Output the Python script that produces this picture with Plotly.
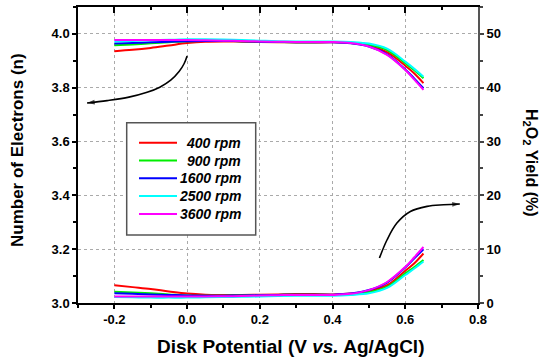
import plotly.graph_objects as go

# ---------------- data ----------------
potential = [-0.2, -0.15, -0.1, -0.05, 0.0, 0.05, 0.1, 0.15, 0.2, 0.25, 0.3,
             0.35, 0.4, 0.45, 0.5, 0.55, 0.6, 0.625, 0.65]

series_names = ["400 rpm", "900 rpm", "1600 rpm", "2500 rpm", "3600 rpm"]
series_colors = ["#ff0000", "#00ee00", "#0000ff", "#00ffff", "#ff00ff"]

n_400 = [3.936, 3.941, 3.948, 3.957, 3.966, 3.971, 3.972, 3.971, 3.970, 3.969, 3.968,
         3.968, 3.969, 3.966, 3.956, 3.932, 3.882, 3.853, 3.817]
n_900 = [3.958, 3.961, 3.965, 3.969, 3.973, 3.974, 3.974, 3.973, 3.972, 3.970, 3.969,
         3.969, 3.970, 3.968, 3.960, 3.940, 3.891, 3.865, 3.835]
n_1600 = [3.964, 3.966, 3.969, 3.971, 3.973, 3.974, 3.974, 3.973, 3.971, 3.970, 3.969,
          3.969, 3.969, 3.965, 3.953, 3.924, 3.868, 3.834, 3.798]
n_2500 = [3.972, 3.974, 3.976, 3.978, 3.980, 3.980, 3.979, 3.977, 3.975, 3.973, 3.972,
          3.972, 3.972, 3.970, 3.964, 3.945, 3.897, 3.870, 3.841]
n_3600 = [3.977, 3.977, 3.977, 3.977, 3.977, 3.976, 3.975, 3.974, 3.972, 3.971, 3.970,
          3.970, 3.970, 3.966, 3.953, 3.922, 3.866, 3.830, 3.792]

h2o2_400 = [3.3, 2.95, 2.6, 2.15, 1.75, 1.55, 1.5, 1.5, 1.55, 1.6, 1.65,
            1.65, 1.6, 1.75, 2.2, 3.3, 6.0, 7.4, 9.2]
h2o2_900 = [2.1, 1.95, 1.8, 1.6, 1.4, 1.35, 1.35, 1.4, 1.45, 1.5, 1.55,
            1.55, 1.5, 1.6, 2.0, 3.0, 5.5, 6.7, 8.0]
h2o2_1600 = [1.8, 1.7, 1.6, 1.5, 1.4, 1.35, 1.35, 1.4, 1.45, 1.5, 1.55,
             1.55, 1.55, 1.75, 2.4, 3.8, 6.6, 8.3, 10.0]
h2o2_2500 = [1.1, 1.05, 1.0, 1.0, 1.0, 1.05, 1.1, 1.15, 1.2, 1.3, 1.35,
             1.35, 1.35, 1.5, 1.8, 2.8, 5.2, 6.4, 7.7]
h2o2_3600 = [1.2, 1.2, 1.2, 1.2, 1.2, 1.2, 1.25, 1.3, 1.4, 1.45, 1.5,
             1.5, 1.5, 1.7, 2.4, 3.9, 6.7, 8.5, 10.4]

n_series = [n_400, n_900, n_1600, n_2500, n_3600]
h2o2_series = [h2o2_400, h2o2_900, h2o2_1600, h2o2_2500, h2o2_3600]

# guide arrows (data coordinates, left axis)
arrow_n_x = [0.0, -0.008, -0.022, -0.045, -0.075, -0.11, -0.16, -0.22, -0.275]
arrow_n_y = [3.918, 3.890, 3.860, 3.828, 3.802, 3.783, 3.765, 3.752, 3.743]
arrow_h_x = [0.529, 0.550, 0.577, 0.614, 0.660, 0.705, 0.750]
arrow_h_y = [3.167, 3.235, 3.297, 3.340, 3.359, 3.365, 3.368]

x_tickvals = [-0.2, 0.0, 0.2, 0.4, 0.6, 0.8]
x_ticktext = ["-0.2", "0.0", "0.2", "0.4", "0.6", "0.8"]
yl_tickvals = [3.0, 3.2, 3.4, 3.6, 3.8, 4.0]
yl_ticktext = ["3.0", "3.2", "3.4", "3.6", "3.8", "4.0"]
yr_tickvals = [0, 10, 20, 30, 40, 50]
yr_ticktext = ["0", "10", "20", "30", "40", "50"]

# ---------------- figure ----------------
FONT = "Liberation Sans, Arial, sans-serif"
W, H = 540, 361
PL, PR, PT, PB = 78, 478, 7, 303  # plot area in pixels


def px_x(p):
    return (p - PL) / (PR - PL)


def px_y(p):
    return (PB - p) / (PB - PT)


fig = go.Figure()

for name, col, ys in zip(series_names, series_colors, n_series):
    fig.add_trace(go.Scatter(x=potential, y=ys, mode="lines", name=name,
                             line=dict(color=col, width=2, shape="spline"),
                             showlegend=False, xaxis="x", yaxis="y"))
for name, col, ys in zip(series_names, series_colors, h2o2_series):
    fig.add_trace(go.Scatter(x=potential, y=ys, mode="lines", name=name,
                             line=dict(color=col, width=2, shape="spline"),
                             showlegend=False, xaxis="x", yaxis="y2"))

# arrows: curved shaft + arrow-shaped marker at the end
for ax_, ay_ in [(arrow_n_x, arrow_n_y), (arrow_h_x, arrow_h_y)]:
    fig.add_trace(go.Scatter(x=ax_, y=ay_, mode="lines",
                             line=dict(color="black", width=1.6, shape="spline"),
                             showlegend=False, hoverinfo="skip"))
    fig.add_trace(go.Scatter(x=ax_[-2:], y=ay_[-2:], mode="markers",
                             marker=dict(symbol="arrow", angleref="previous",
                                         size=[0, 8], color="black",
                                         line=dict(width=0)),
                             showlegend=False, hoverinfo="skip"))

# invisible trace to carry the top mirror axis
fig.add_trace(go.Scatter(x=[potential[0]], y=[n_400[0]], mode="markers",
                         marker=dict(opacity=0), xaxis="x2", yaxis="y",
                         showlegend=False, hoverinfo="skip"))

tickfont = dict(family=FONT, size=13, color="black", weight="bold")

fig.update_layout(
    width=W, height=H,
    margin=dict(l=PL, r=W - PR, t=PT, b=H - PB),
    paper_bgcolor="white", plot_bgcolor="white",
    font=dict(family=FONT, color="black"),
    xaxis=dict(range=[-0.3, 0.8], tickvals=x_tickvals, ticktext=x_ticktext,
               tickfont=tickfont, ticks="outside", ticklen=4, tickwidth=1.5,
               tickcolor="black", showline=True, linecolor="black", linewidth=1.5,
               showgrid=True, gridcolor="#aaaaaa", griddash="dot", gridwidth=1,
               zeroline=False,
               minor=dict(dtick=0.1, tick0=0, ticks="outside", ticklen=3,
                          tickwidth=1.5, tickcolor="black", showgrid=False)),
    xaxis2=dict(range=[-0.3, 0.8], overlaying="x", side="top",
                tickvals=x_tickvals, showticklabels=False, ticks="inside",
                ticklen=6, tickwidth=1.5, tickcolor="black", showline=True,
                linecolor="black", linewidth=1.5, showgrid=False, zeroline=False,
                minor=dict(dtick=0.1, tick0=0, ticks="inside", ticklen=3,
                           tickwidth=1.5, tickcolor="black", showgrid=False)),
    yaxis=dict(range=[3.0, 4.1], tickvals=yl_tickvals, ticktext=yl_ticktext,
               tickfont=tickfont, ticks="outside", ticklen=4, tickwidth=1.5,
               tickcolor="black", showline=True, linecolor="black", linewidth=1.5,
               showgrid=True, gridcolor="#aaaaaa", griddash="dot", gridwidth=1,
               zeroline=False,
               minor=dict(dtick=0.1, tick0=3.0, ticks="outside", ticklen=3,
                          tickwidth=1.5, tickcolor="black", showgrid=False)),
    yaxis2=dict(range=[0, 55], overlaying="y", side="right",
                tickvals=yr_tickvals, ticktext=yr_ticktext, tickfont=tickfont,
                ticks="outside", ticklen=4, tickwidth=1.5, tickcolor="#444444",
                showline=True, linecolor="#555555", linewidth=2,
                showgrid=False, zeroline=False,
                minor=dict(dtick=5, tick0=0, ticks="outside", ticklen=3,
                           tickwidth=1.5, tickcolor="#444444", showgrid=False)),
)

# x axis title
fig.add_annotation(x=px_x(290), y=px_y(346), xref="paper", yref="paper",
                   text="Disk Potential (V <i>vs.</i> Ag/AgCl)",
                   showarrow=False, xanchor="center", yanchor="middle",
                   font=dict(family=FONT, size=19, weight="bold", color="black"))

# left axis title
fig.add_annotation(x=px_x(17), y=px_y(150), xref="paper", yref="paper",
                   text="Number of Electrons (n)", textangle=-90,
                   showarrow=False, xanchor="center", yanchor="middle",
                   font=dict(family=FONT, size=17, weight="bold", color="black"))

# right axis title (reads top to bottom)
fig.add_annotation(x=px_x(530), y=px_y(163), xref="paper", yref="paper",
                   text="H<sub>2</sub>O<sub>2</sub> Yield (%)", textangle=90,
                   showarrow=False, xanchor="center", yanchor="middle",
                   font=dict(family=FONT, size=16, weight="bold", color="black"))

# legend box (drawn manually to right-align the labels)
LB_L, LB_R, LB_T, LB_B = 126.7, 255.7, 122.7, 235.0
fig.add_shape(type="rect", xref="paper", yref="paper",
              x0=px_x(LB_L), x1=px_x(LB_R), y0=px_y(LB_B), y1=px_y(LB_T),
              line=dict(color="#555555", width=1.5), fillcolor="white", layer="above")
row0, row_gap = 142.7, 17.8
for i, (name, col) in enumerate(zip(series_names, series_colors)):
    ry = row0 + i * row_gap
    fig.add_shape(type="line", xref="paper", yref="paper",
                  x0=px_x(139), x1=px_x(177), y0=px_y(ry), y1=px_y(ry),
                  line=dict(color=col, width=2), layer="above")
    fig.add_annotation(x=px_x(243), y=px_y(ry), xref="paper", yref="paper",
                       text=f"<i>{name}</i>", showarrow=False,
                       xanchor="right", yanchor="middle",
                       font=dict(family=FONT, size=14, weight="bold", color="black"))

fig.write_html("out.html")
